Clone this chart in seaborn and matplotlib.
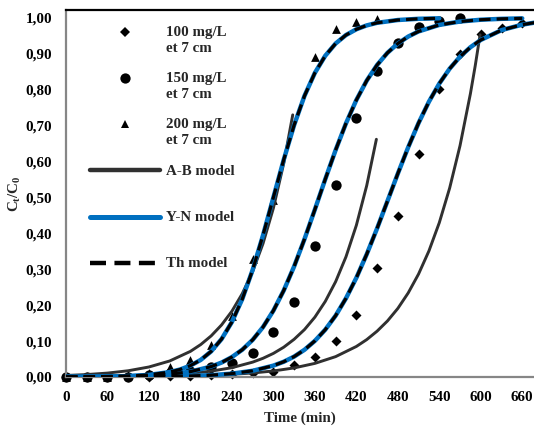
import numpy as np
import matplotlib
matplotlib.use("Agg")
import matplotlib.pyplot as plt
import seaborn as sns
from matplotlib.lines import Line2D
from matplotlib.ticker import MultipleLocator, FixedLocator
from matplotlib.font_manager import FontProperties

# ---------------- data ----------------
# experimental points (time in min, C/C0)
t_100 = [0, 30, 60, 90, 120, 150, 180, 210, 240, 270, 300, 330, 360, 390, 420, 450,
         480, 510, 540, 570, 600, 630, 660]
exp_100 = [0, 0, 0, 0, 0, 0.002, 0.003, 0.005, 0.007, 0.010, 0.015, 0.033, 0.056, 0.100,
           0.173, 0.304, 0.448, 0.621, 0.802, 0.900, 0.955, 0.972, 0.986]

t_150 = [0, 30, 60, 90, 120, 150, 180, 210, 240, 270, 300, 330, 360, 390, 420, 450,
         480, 510, 540, 570]
exp_150 = [0, 0, 0, 0, 0.005, 0.010, 0.018, 0.028, 0.040, 0.068, 0.125, 0.209, 0.365,
           0.535, 0.721, 0.852, 0.930, 0.975, 0.990, 1.000]

t_200 = [0, 30, 60, 90, 120, 150, 180, 210, 240, 270, 300, 360, 390, 420, 450]
exp_200 = [0, 0, 0, 0.005, 0.012, 0.028, 0.047, 0.089, 0.170, 0.329, 0.493, 0.891,
           0.969, 0.989, 0.997]

# Y-N model curves
yn_t_200 = [0, 30, 60, 90, 120, 150, 165, 180, 195, 210, 225, 240, 255, 270, 285, 300,
            315, 330, 345, 360, 375, 390, 405, 420, 435, 450, 480, 510, 540]
yn_200 = [0.0002, 0.0005, 0.0011, 0.0025, 0.0059, 0.0137, 0.0209, 0.0317, 0.0477, 0.0714,
          0.1055, 0.1532, 0.2171, 0.2984, 0.3947, 0.5000, 0.6053, 0.7016, 0.7829, 0.8468,
          0.8945, 0.9286, 0.9523, 0.9683, 0.9791, 0.9863, 0.9941, 0.9975, 0.9989]

yn_t_150 = [0, 60, 120, 150, 180, 210, 225, 240, 255, 270, 285, 300, 315, 330, 345, 360,
            375, 390, 405, 420, 435, 450, 465, 480, 495, 510, 540, 570, 600, 630, 660]
yn_150 = [0.0003, 0.0010, 0.0039, 0.0077, 0.0150, 0.0290, 0.0402, 0.0555, 0.0760, 0.1034,
          0.1391, 0.1847, 0.2410, 0.3079, 0.3840, 0.4663, 0.5505, 0.6318, 0.7063, 0.7712,
          0.8253, 0.8688, 0.9027, 0.9286, 0.9480, 0.9623, 0.9804, 0.9899, 0.9949, 0.9974,
          0.9987]

yn_t_100 = [0, 60, 120, 180, 210, 240, 270, 300, 315, 330, 345, 360, 375, 390, 405, 420,
            435, 450, 465, 480, 495, 510, 525, 540, 555, 570, 585, 600, 630, 660, 680]
yn_100 = [0.0001, 0.0002, 0.0008, 0.0028, 0.0051, 0.0094, 0.0173, 0.0317, 0.0425, 0.0568,
          0.0758, 0.1006, 0.1317, 0.1708, 0.2191, 0.2762, 0.3417, 0.4137, 0.4898, 0.5663,
          0.6397, 0.7072, 0.7666, 0.8171, 0.8586, 0.8921, 0.9183, 0.9386, 0.9659, 0.9812,
          0.9875]

# Thomas model curves coincide with the Y-N ones
th_t_200, th_200 = yn_t_200, yn_200
th_t_150, th_150 = yn_t_150, yn_150
th_t_100, th_100 = yn_t_100, yn_100

# A-B model curves
ab_t_200 = [0, 30, 60, 90, 120, 150, 180, 195, 210, 225, 240, 255, 270, 285, 300, 315, 328]
ab_200 = [0.0042, 0.0068, 0.0109, 0.0174, 0.0279, 0.0446, 0.0714, 0.0905, 0.1145, 0.1449,
          0.1833, 0.2321, 0.2936, 0.3716, 0.4703, 0.5952, 0.730]

ab_t_150 = [0, 60, 120, 180, 210, 240, 270, 285, 300, 315, 330, 345, 360, 375, 390, 405,
            420, 435, 449]
ab_150 = [0.0006, 0.0016, 0.0040, 0.0102, 0.0163, 0.0259, 0.0414, 0.0521, 0.0657, 0.0830,
          0.1050, 0.1321, 0.1666, 0.2103, 0.2653, 0.3347, 0.4223, 0.5329, 0.662]

ab_t_100 = [0, 120, 180, 240, 270, 300, 330, 360, 390, 420, 435, 450, 465, 480, 495, 510,
            525, 540, 555, 570, 585, 592, 599]
ab_100 = [0.0003, 0.0015, 0.0033, 0.0075, 0.0112, 0.0168, 0.0253, 0.0379, 0.0567, 0.0850,
          0.1041, 0.1276, 0.1560, 0.1909, 0.2340, 0.2867, 0.3510, 0.4297, 0.5262, 0.6443,
          0.7889, 0.8670, 0.953]

x_ticks = [0, 60, 120, 180, 240, 300, 360, 420, 480, 540, 600, 660]
x_tick_labels = ["0", "60", "120", "180", "240", "300", "360", "420", "480", "540", "600", "660"]
y_ticks = [0.0, 0.1, 0.2, 0.3, 0.4, 0.5, 0.6, 0.7, 0.8, 0.9, 1.0]
y_tick_labels = ["0,00", "0,10", "0,20", "0,30", "0,40", "0,50", "0,60", "0,70", "0,80",
                 "0,90", "1,00"]
legend_labels = ["100 mg/L\net 7 cm", "150 mg/L\net 7 cm", "200 mg/L\net 7 cm",
                 "A-B model\n", "Y-N model\n", "Th model\n"]

# ---------------- style ----------------
sns.set_theme(style="white")
plt.rcParams["font.family"] = ["Liberation Serif", "DejaVu Serif"]
plt.rcParams["font.weight"] = "bold"
plt.rcParams["mathtext.fontset"] = "custom"
plt.rcParams["mathtext.bf"] = "Liberation Serif:bold"
plt.rcParams["mathtext.rm"] = "Liberation Serif:bold"
plt.rcParams["mathtext.it"] = "Liberation Serif:bold"

FS = 10.8
W, H = 534, 428
fig = plt.figure(figsize=(W / 100, H / 100), dpi=100)
ax = fig.add_axes([66 / W, 51 / H, (W - 66) / W, (418 - 51) / H])

AB_COLOR = "#303030"
YN_COLOR = "#0070C0"
DASH = (0, (3.6, 1.9))

# markers
sns.scatterplot(x=t_100, y=exp_100, marker="D", s=26, color="black", edgecolor="black",
                linewidth=0, ax=ax, zorder=2, clip_on=False, legend=False)
sns.scatterplot(x=t_150, y=exp_150, marker="o", s=55, color="black", edgecolor="black",
                linewidth=0, ax=ax, zorder=2, clip_on=False, legend=False)
sns.scatterplot(x=t_200, y=exp_200, marker="^", s=40, color="black", edgecolor="black",
                linewidth=0, ax=ax, zorder=2, clip_on=False, legend=False)

# A-B model
for tt, yy in [(ab_t_100, ab_100), (ab_t_150, ab_150), (ab_t_200, ab_200)]:
    sns.lineplot(x=tt, y=yy, ax=ax, color=AB_COLOR, linewidth=2.1, estimator=None,
                 sort=False, zorder=3, legend=False)
# Y-N model
for tt, yy in [(yn_t_100, yn_100), (yn_t_150, yn_150), (yn_t_200, yn_200)]:
    sns.lineplot(x=tt, y=yy, ax=ax, color=YN_COLOR, linewidth=3.2, estimator=None,
                 sort=False, zorder=4, legend=False)
# Thomas model
for tt, yy in [(th_t_100, th_100), (th_t_150, th_150), (th_t_200, th_200)]:
    sns.lineplot(x=tt, y=yy, ax=ax, color="black", linewidth=2.3, linestyle=DASH,
                 estimator=None, sort=False, zorder=5, legend=False)

# axes
ax.set_xlim(0, 677)
ax.set_ylim(0, 1.022)
ax.xaxis.set_major_locator(FixedLocator(x_ticks))
ax.set_xticklabels(x_tick_labels)
ax.yaxis.set_major_locator(FixedLocator(y_ticks))
ax.set_yticklabels(y_tick_labels)
ax.xaxis.set_minor_locator(MultipleLocator(30))
ax.yaxis.set_minor_locator(MultipleLocator(0.05))
ax.tick_params(which="both", direction="in", length=3.5, width=1.2, color="#868686")
ax.tick_params(axis="y", which="major", pad=10, labelsize=FS, labelcolor="black")
ax.tick_params(axis="x", which="major", pad=10, labelsize=FS, labelcolor="black")
for lab in ax.get_xticklabels() + ax.get_yticklabels():
    lab.set_fontweight("bold")

ax.spines["left"].set_color("#868686")
ax.spines["bottom"].set_color("#868686")
ax.spines["left"].set_linewidth(1.6)
ax.spines["bottom"].set_linewidth(1.6)
ax.spines["top"].set_color("black")
ax.spines["top"].set_linewidth(1.6)
ax.spines["right"].set_visible(False)
ax.grid(False)

ax.set_xlabel("Time (min)", fontsize=FS, fontweight="bold")
ax.set_ylabel(r"$\mathbf{C_t/C_0}$", fontsize=FS)
ax.xaxis.set_label_coords(0.5, -0.093)
ax.yaxis.set_label_coords(-0.091, 0.5)

# legend
handles = [
    Line2D([], [], ls="none", marker="D", ms=5.1, color="black", mew=0),
    Line2D([], [], ls="none", marker="o", ms=7.4, color="black", mew=0),
    Line2D([], [], ls="none", marker="^", ms=6.4, color="black", mew=0),
    Line2D([], [], color=AB_COLOR, lw=3.2),
    Line2D([], [], color=YN_COLOR, lw=3.6),
    Line2D([], [], color="black", lw=3.2, ls=(0, (3.6, 1.9))),
]
leg = ax.legend(handles, legend_labels, loc="upper left",
                bbox_to_anchor=(90 / W, 1 - 26 / H), bbox_transform=fig.transFigure,
                frameon=False, borderpad=0, borderaxespad=0, handlelength=4.65,
                handletextpad=0.4, labelspacing=1.16,
                prop=FontProperties(family="Liberation Serif", weight="bold", size=FS))
for txt in leg.get_texts():
    txt.set_linespacing(1.28)
for h in leg.legend_handles:
    h.set_ydata(np.asarray(h.get_ydata(), dtype=float) + 6)

fig.savefig("out.png", dpi=100)
